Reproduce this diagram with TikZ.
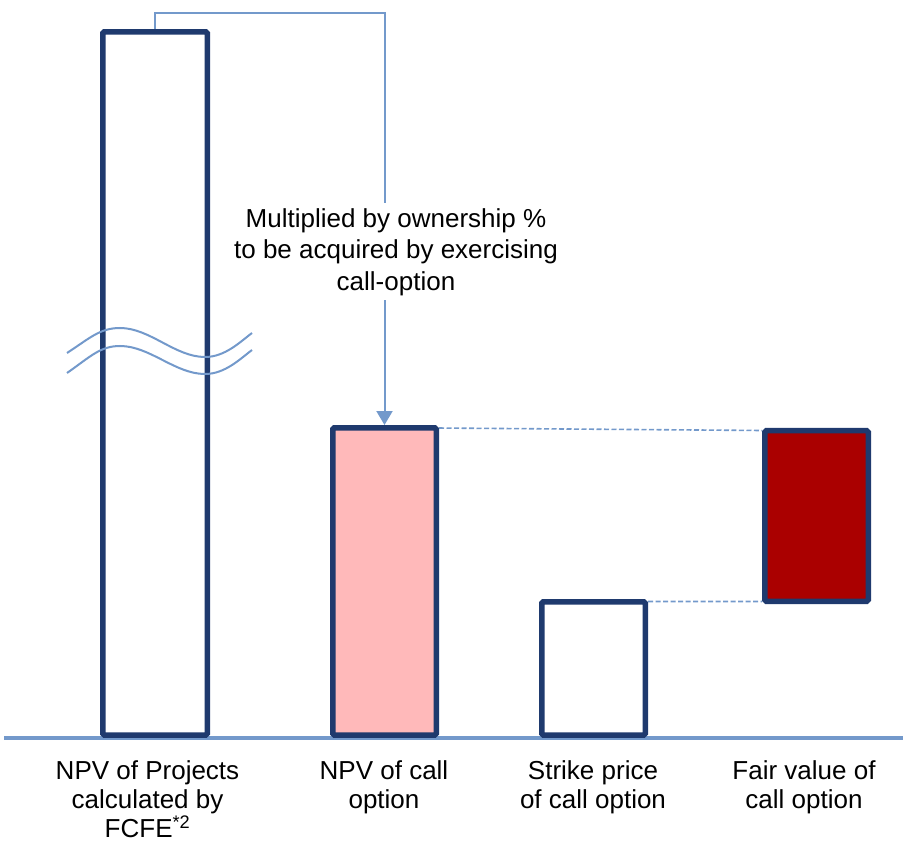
\documentclass[tikz,border=0pt]{standalone}
\usepackage{fontspec}
\setmainfont{Liberation Sans}
\usetikzlibrary{arrows.meta}
\definecolor{navy}{HTML}{1F3A6E}
\definecolor{lblue}{HTML}{7399CB}
\definecolor{pinkfill}{HTML}{FFB9BA}
\definecolor{darkred}{HTML}{AA0000}
\tikzset{
  barbox/.style={draw=navy, line width=5.5pt, rounded corners=1.5pt, inner sep=0pt, rectangle},
  lbl/.style={align=center, inner sep=0pt, anchor=north, font=\fontsize{26}{29}\selectfont, text=black},
  connline/.style={draw=lblue, line width=2pt},
  dashline/.style={draw=lblue, line width=1.6pt, dash pattern=on 5pt off 2.5pt},
  wave/.style={draw=lblue, line width=2pt},
}
\begin{document}
\begin{tikzpicture}[x=1pt,y=-1pt]
\useasboundingbox (0,0) rectangle (903,842);
% axis
\coordinate (axisL) at (4,738);
\coordinate (axisR) at (903,738);
\draw[draw=lblue, line width=4pt] (axisL) -- (axisR);
% bars
\node[barbox, fill=white, minimum width=104.5pt, minimum height=703.25pt] (bar1) at (155,383.4) {};
\node[barbox, fill=pinkfill, minimum width=103.5pt, minimum height=307.25pt] (bar2) at (384.5,581.4) {};
\node[barbox, fill=white, minimum width=103.5pt, minimum height=133.25pt] (bar3) at (593.5,668.4) {};
\node[barbox, fill=darkred, minimum width=103.5pt, minimum height=170.5pt] (bar4) at (816.5,516) {};
% break waves
\draw[wave] (67,353) .. controls (90,338) and (100,328) .. (120,328)
  .. controls (150,328) and (175,357) .. (205,357)
  .. controls (225,357) and (240,342) .. (252,333);
\draw[wave] (67,373) .. controls (90,357) and (100,346) .. (120,346)
  .. controls (150,346) and (175,374) .. (205,374)
  .. controls (225,374) and (240,359) .. (252,350);
% connector
\coordinate (turn) at (384.5,12.7);
\draw[connline, -{Triangle[length=14pt,width=16pt]}] (bar1.north) |- (turn) -- (bar2.north);
\node[lbl, fill=white, inner ysep=5pt, font=\fontsize{26}{31.5}\selectfont] (note) at (396,203) {Multiplied by ownership \%\\to be acquired by exercising\\call-option};
% dashed lines
\draw[dashline] ([yshift=-3pt]bar2.north east) -- ([yshift=-2.5pt]bar4.north west);
\draw[dashline] ([yshift=-2.5pt]bar3.north east) -- ([yshift=2.5pt]bar4.south west);
% labels
\node[lbl] (l1) at (147.5,760) {NPV of Projects\\calculated by\\FCFE\textsuperscript{*2}};
\node[lbl] (l2) at (384,760) {NPV of call\\option};
\node[lbl] (l3) at (593,760) {Strike price\\of call option};
\node[lbl] (l4) at (804,760) {Fair value of\\call option};
\end{tikzpicture}
\end{document}
